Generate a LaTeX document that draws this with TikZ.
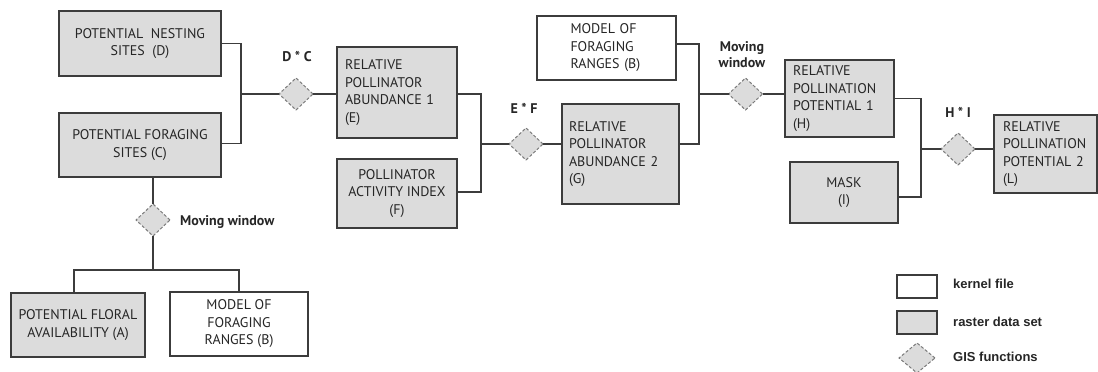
\documentclass[tikz,border=0pt]{standalone}
\usepackage{fontspec}
\setmainfont{PT Sans}
\newfontfamily\legfont{Liberation Sans}
\usetikzlibrary{shapes.geometric}
\definecolor{boxfill}{HTML}{DCDCDC}
\definecolor{linec}{HTML}{3C3C3C}
\definecolor{textc}{HTML}{262626}
\definecolor{dashc}{HTML}{7A7A7A}
\tikzset{
  base/.style={draw=linec, line width=1.1pt, inner sep=0pt, outer sep=0pt, text=textc,
    font=\fontsize{14}{17.5}\selectfont},
  gbox/.style={base, fill=boxfill},
  wbox/.style={base, fill=white},
  gisd/.style={diamond, draw=dashc, fill=boxfill, dashed, dash pattern=on 3pt off 2pt,
    line width=1pt, inner sep=0pt, minimum width=34pt, minimum height=32pt, outer sep=0pt},
  conn/.style={draw=linec, line width=1.1pt},
  lbl/.style={text=textc, font=\fontsize{14}{16}\selectfont\bfseries, inner sep=0pt},
  leg/.style={text=textc, font=\legfont\fontsize{13}{15}\selectfont\bfseries, inner sep=0pt, anchor=west}
}
\begin{document}
\begin{tikzpicture}[x=1pt,y=-1pt]
\useasboundingbox (0,0) rectangle (1098,372);
% boxes
\node[gbox, minimum width=162pt, minimum height=65pt, align=center] (D) at (140,43.5) {POTENTIAL\ \ NESTING\\SITES\ \ (D)};
\node[gbox, minimum width=162pt, minimum height=64pt, align=center] (C) at (140,145) {POTENTIAL FORAGING\\SITES (C)};
\node[gbox, minimum width=120pt, minimum height=91pt, text width=104pt, align=left] (E) at (397,92.5) {RELATIVE\\POLLINATOR\\ABUNDANCE 1\\(E)};
\node[gbox, minimum width=120pt, minimum height=69pt, align=center] (F) at (397,193.5) {POLLINATOR\\ACTIVITY INDEX\\(F)};
\node[wbox, minimum width=139pt, minimum height=64pt, text width=72pt, align=left] (B2) at (606.5,48) {MODEL OF\\FORAGING\\RANGES (B)};
\node[gbox, minimum width=117pt, minimum height=100pt, text width=103pt, align=left] (G) at (620.5,154) {RELATIVE\\POLLINATOR\\ABUNDANCE 2\\(G)};
\node[gbox, minimum width=109pt, minimum height=77pt, text width=93pt, align=left] (H) at (839.5,98.5) {RELATIVE\\POLLINATION\\POTENTIAL 1\\(H)};
\node[gbox, minimum width=108pt, minimum height=61pt, align=center] (I) at (844,192.5) {MASK\\(I)};
\node[gbox, minimum width=103pt, minimum height=78pt, text width=85pt, align=left] (L) at (1045.5,154) {RELATIVE\\POLLINATION\\POTENTIAL 2\\(L)};
\node[gbox, minimum width=134pt, minimum height=64pt, align=center] (A) at (78,325) {POTENTIAL FLORAL\\AVAILABILITY (A)};
\node[wbox, minimum width=138pt, minimum height=64pt, align=center] (B1) at (239,324) {MODEL OF\\FORAGING\\RANGES (B)};
% GIS diamonds
\node[gisd] (DC) at (296,94) {};
\node[gisd] (EF) at (526,144) {};
\node[gisd] (MW2) at (745.5,94) {};
\node[gisd] (HI) at (958,149) {};
\node[gisd] (MW1) at (153,220) {};
% labels
\node[lbl] (lDC) at (297,56) {D * C};
\node[lbl] (lEF) at (524,108) {E * F};
\node[lbl, align=center, font=\fontsize{14}{16}\selectfont\bfseries] (lMW2) at (742,55) {Moving\\window};
\node[lbl] (lHI) at (958,112) {H * I};
\node[lbl, anchor=west] (lMW1) at (180,222) {Moving window};
% junctions
\coordinate (j1) at (241,94);
\coordinate (j2) at (481,144);
\coordinate (j3) at (699,94);
\coordinate (j4) at (921,149);
\coordinate (j5) at (153,270);
% connectors
\draw[conn] (D.east) -| (j1);
\draw[conn] ([yshift=1.5pt]C.east) -| (j1);
\draw[conn] (j1) -- (DC.west);
\draw[conn] (DC.east) -- (DC.east -| E.west);
\draw[conn] ([yshift=-1.5pt]E.east) -| (j2);
\draw[conn] ([yshift=1.5pt]F.east) -| (j2);
\draw[conn] (j2) -- (EF.west);
\draw[conn] (EF.east) -- (EF.east -| G.west);
\draw[conn] ([yshift=4pt]B2.east) -| (j3);
\draw[conn] ([yshift=10pt]G.east) -| (j3);
\draw[conn] (j3) -- (MW2.west);
\draw[conn] (MW2.east) -- (MW2.east -| H.west);
\draw[conn] (H.east) -| (j4);
\draw[conn] ([yshift=-4.5pt]I.east) -| (j4);
\draw[conn] (j4) -- (HI.west);
\draw[conn] (HI.east) -- (HI.east -| L.west);
\draw[conn] (MW1.north |- C.south) -- (MW1.north);
\draw[conn] (MW1.south) -- (j5);
\draw[conn] ([xshift=-4pt]A.north) |- (j5) -| (B1.north);
% legend
\node[wbox, minimum width=40pt, minimum height=23pt] (kw) at (917,286.5) {};
\node[gbox, minimum width=40pt, minimum height=23pt] (kg) at (917,322.5) {};
\node[gisd, minimum width=36pt, minimum height=30pt] (kd) at (917,358) {};
\node[leg] (lk) at (953,284) {kernel file};
\node[leg] (lr) at (953,322) {raster data set};
\node[leg] (lg) at (953,357) {GIS functions};
\end{tikzpicture}
\end{document}
